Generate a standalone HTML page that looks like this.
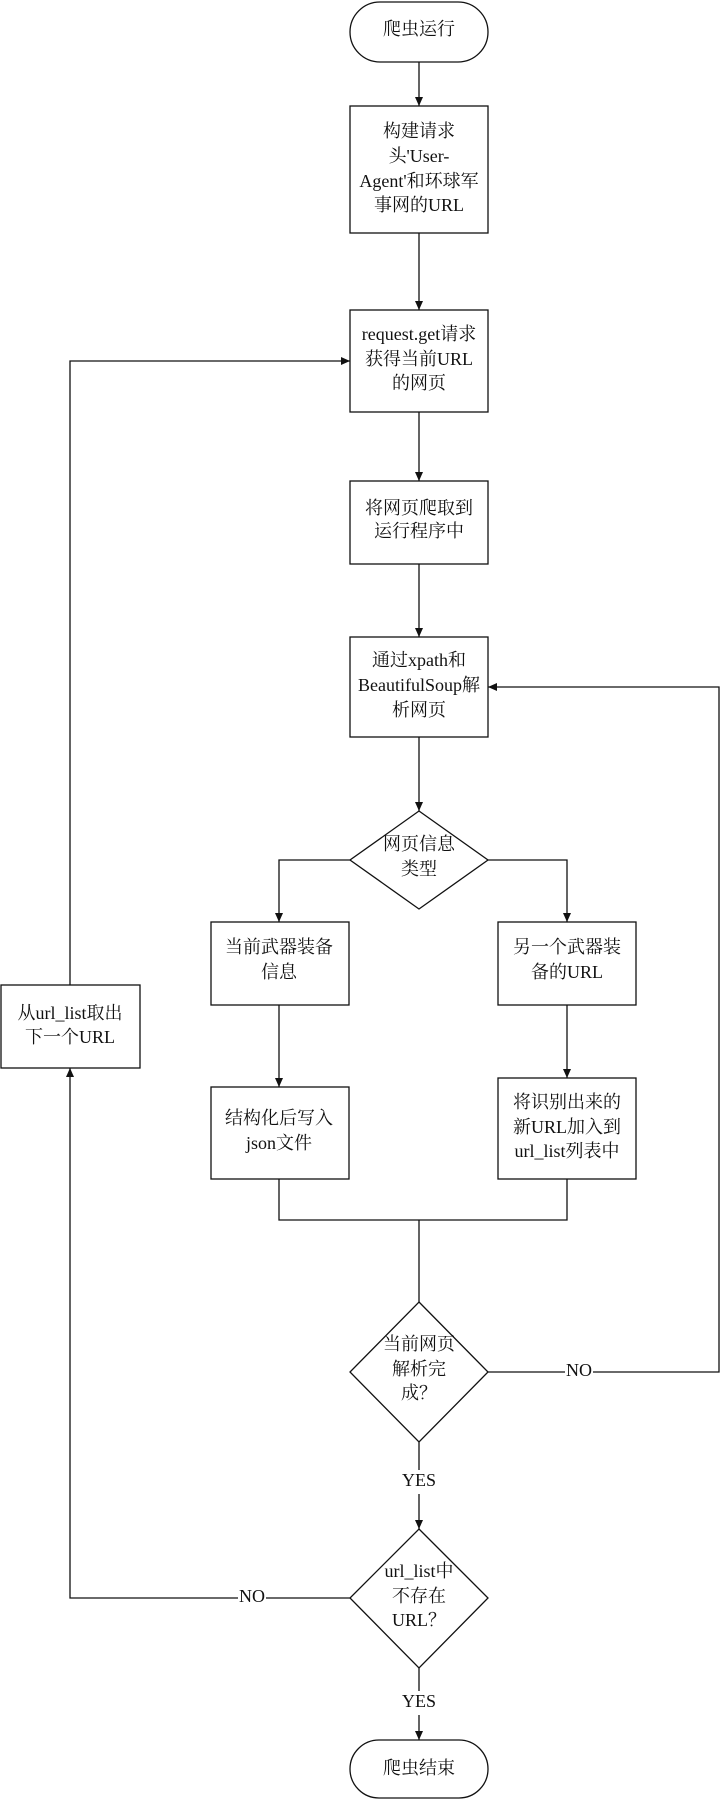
<!DOCTYPE html>
<html><head><meta charset="utf-8"><style>
html,body{margin:0;padding:0;background:#fff;}
svg{display:block}
text{font-family:"Liberation Serif","Noto Serif CJK SC",serif;font-size:18px;fill:#111;text-anchor:middle;dominant-baseline:middle}
</style></head><body>
<svg width="722" height="1799" viewBox="0 0 722 1799" xmlns="http://www.w3.org/2000/svg">
<defs><marker id="a" markerWidth="10" markerHeight="10" refX="9" refY="5" orient="auto" markerUnits="userSpaceOnUse"><path d="M0,1 L9,5 L0,9 z" fill="#111"/></marker></defs>
<g fill="none" stroke="#111" stroke-width="1.3">
<rect x="350" y="2" width="138" height="60" rx="30"/>
<rect x="350" y="106" width="138" height="127"/>
<rect x="350" y="310" width="138" height="102"/>
<rect x="350" y="481" width="138" height="83"/>
<rect x="350" y="637" width="138" height="100"/>
<polygon points="419,811 488,860 419,909 350,860"/>
<rect x="211" y="922" width="138" height="83"/>
<rect x="498" y="922" width="138" height="83"/>
<rect x="1" y="985" width="139" height="83"/>
<rect x="211" y="1087" width="138" height="92"/>
<rect x="498" y="1078" width="138" height="101"/>
<polygon points="419,1302 488,1372 419,1442 350,1372"/>
<polygon points="419,1529 488,1598 419,1668 350,1598"/>
<rect x="350" y="1740" width="138" height="58" rx="29"/>
<line x1="419" y1="62" x2="419" y2="106" marker-end="url(#a)"/>
<line x1="419" y1="233" x2="419" y2="310" marker-end="url(#a)"/>
<line x1="419" y1="412" x2="419" y2="481" marker-end="url(#a)"/>
<line x1="419" y1="564" x2="419" y2="637" marker-end="url(#a)"/>
<line x1="419" y1="737" x2="419" y2="811" marker-end="url(#a)"/>
<polyline points="350,860 279,860 279,922" marker-end="url(#a)"/>
<polyline points="488,860 567,860 567,922" marker-end="url(#a)"/>
<line x1="279" y1="1005" x2="279" y2="1087" marker-end="url(#a)"/>
<line x1="567" y1="1005" x2="567" y2="1078" marker-end="url(#a)"/>
<polyline points="279,1179 279,1220 567,1220 567,1179"/>
<line x1="419" y1="1220" x2="419" y2="1302"/>
<polyline points="488,1372 565,1372"/>
<polyline points="593,1372 719,1372 719,687 488,687" marker-end="url(#a)"/>
<line x1="419" y1="1442" x2="419" y2="1470"/>
<line x1="419" y1="1494" x2="419" y2="1529" marker-end="url(#a)"/>
<line x1="350" y1="1598" x2="266" y2="1598"/>
<polyline points="238,1598 70,1598 70,1068" marker-end="url(#a)"/>
<polyline points="70,985 70,361 350,361" marker-end="url(#a)"/>
<line x1="419" y1="1668" x2="419" y2="1691"/>
<line x1="419" y1="1715" x2="419" y2="1740" marker-end="url(#a)"/>
</g>
<text x="419" y="31">爬虫运行</text>
<text x="419" y="133">构建请求</text>
<text x="419" y="158">头'User-</text>
<text x="419" y="183">Agent'和环球军</text>
<text x="419" y="207">事网的URL</text>
<text x="419" y="336">request.get请求</text>
<text x="419" y="361">获得当前URL</text>
<text x="419" y="385">的网页</text>
<text x="419" y="510">将网页爬取到</text>
<text x="419" y="533">运行程序中</text>
<text x="419" y="662">通过xpath和</text>
<text x="419" y="687">BeautifulSoup解</text>
<text x="419" y="712">析网页</text>
<text x="419" y="846">网页信息</text>
<text x="419" y="871">类型</text>
<text x="279" y="949">当前武器装备</text>
<text x="279" y="974">信息</text>
<text x="567" y="949">另一个武器装</text>
<text x="567" y="974">备的URL</text>
<text x="70" y="1015">从url_list取出</text>
<text x="70" y="1039">下一个URL</text>
<text x="279" y="1120">结构化后写入</text>
<text x="279" y="1145">json文件</text>
<text x="567" y="1104">将识别出来的</text>
<text x="567" y="1129">新URL加入到</text>
<text x="567" y="1153">url_list列表中</text>
<text x="419" y="1346">当前网页</text>
<text x="419" y="1371">解析完</text>
<text x="419" y="1395">成？</text>
<text x="579" y="1372">NO</text>
<text x="419" y="1482">YES</text>
<text x="419" y="1573">url_list中</text>
<text x="419" y="1598">不存在</text>
<text x="419" y="1622">URL？</text>
<text x="252" y="1598">NO</text>
<text x="419" y="1703">YES</text>
<text x="419" y="1770">爬虫结束</text>
</svg>
</body></html>
